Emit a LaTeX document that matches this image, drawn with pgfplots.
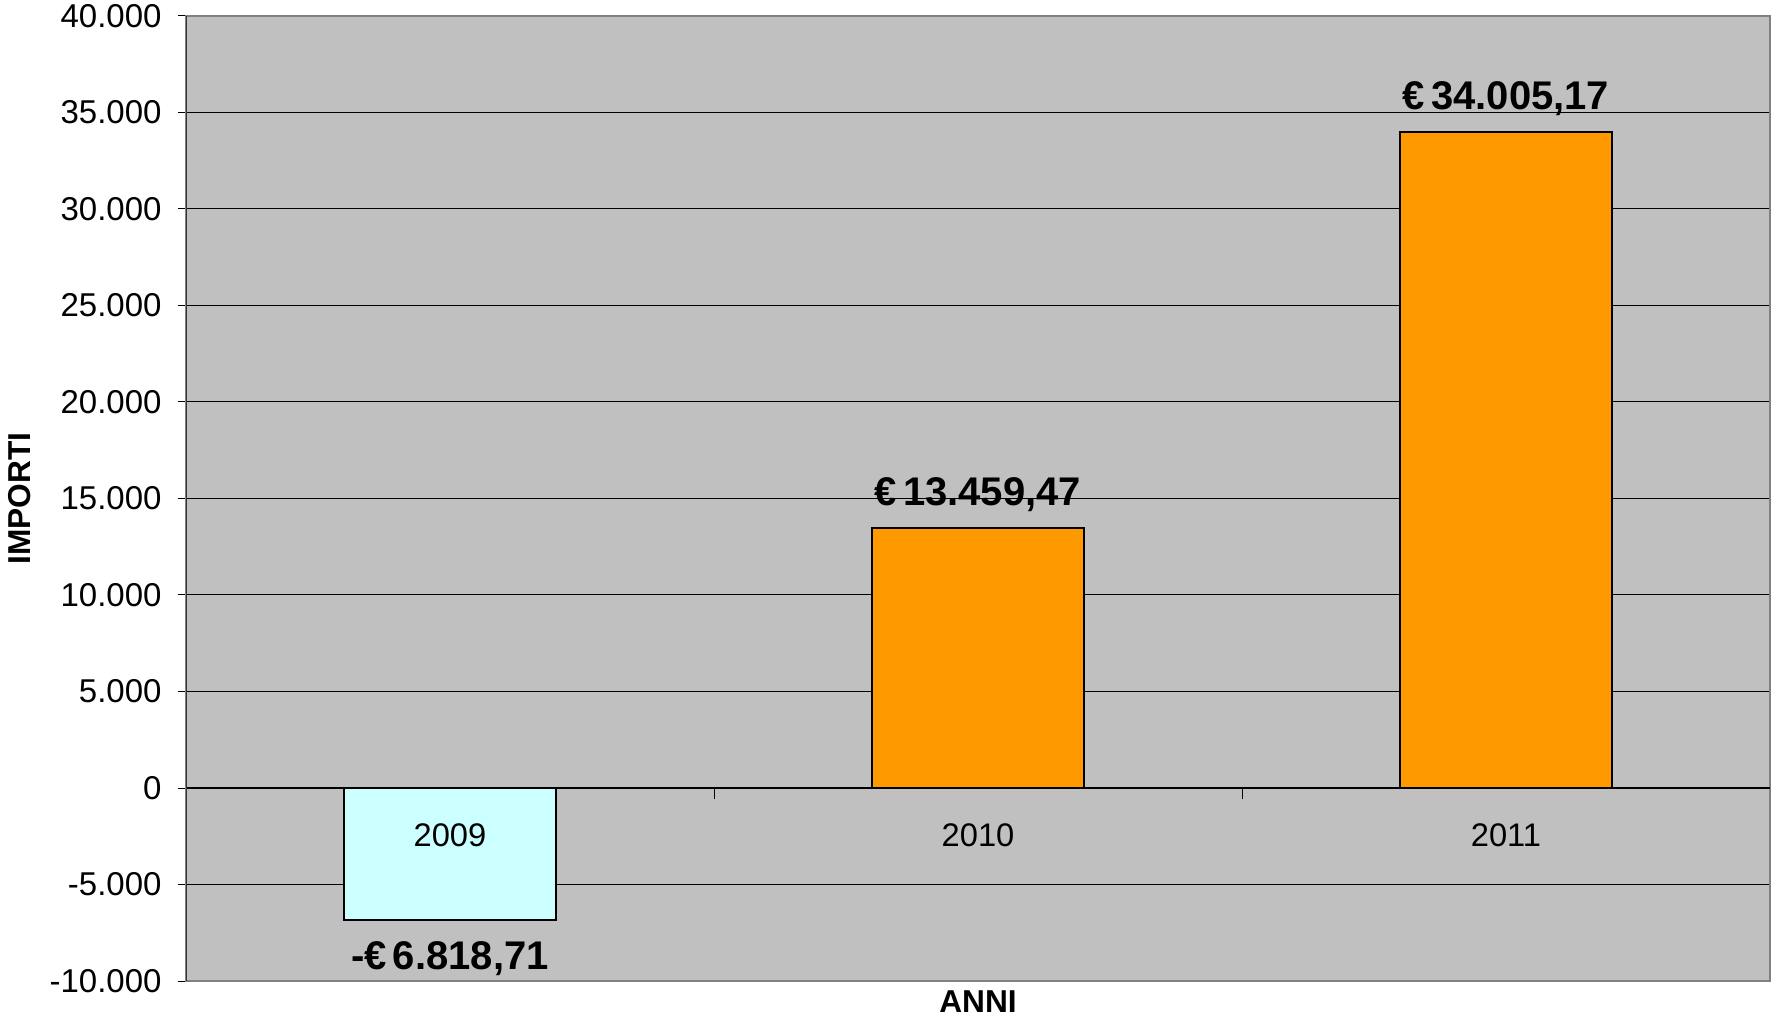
\documentclass[border=0pt]{standalone}
\usepackage{fontspec}
\setmainfont{Liberation Sans}
\usepackage{pgfplots}
\pgfplotsset{compat=1.18}
\definecolor{plotbg}{RGB}{192,192,192}
\definecolor{barorange}{RGB}{255,153,0}
\definecolor{barcyan}{RGB}{204,255,255}
\definecolor{framegray}{RGB}{128,128,128}

\begin{document}
\begin{tikzpicture}
\begin{axis}[
    scale only axis,
    width=475.2pt, height=289.5pt,
    xmin=-0.5, xmax=2.5,
    ymin=-10000, ymax=40000,
    ytick={-10000,-5000,...,40000},
    xtick=\empty,
    scaled y ticks=false,
    ymajorgrids,
    major grid style={black, line width=0.3pt},
    axis background/.style={fill=plotbg},
    axis line style={framegray, line width=0.6pt},
    tick align=outside,
    major tick length=2.4pt,
    tick style={black, line width=0.3pt},
    yticklabel style={font=\fontsize{9.9}{11}\selectfont, xshift=-1.4pt,
        /pgf/number format/use comma,
        /pgf/number format/1000 sep={.},
        /pgf/number format/assume math mode=true},
    ylabel={IMPORTI},
    ylabel style={font=\bfseries\fontsize{9.5}{11}\selectfont,
        at={(axis description cs:-0.1048,0.5)}, anchor=center},
    xlabel={ANNI},
    xlabel style={font=\bfseries\fontsize{9.5}{11}\selectfont,
        at={(axis description cs:0.5,0)}, yshift=-6.3pt, anchor=center},
    ybar, bar width=0.4, bar shift=0pt,
    nodes near coords, point meta=explicit symbolic,
    every node near coord/.append style={font=\bfseries\fontsize{12}{14}\selectfont, black},
]
% 2009: negative result
\addplot[fill=barcyan, draw=black, line width=0.6pt,
    every node near coord/.append style={anchor=north, yshift=-3pt}]
    coordinates {(0,-6818.71) [-€\kern0.15em 6.818,71]};
% 2010 and 2011
\addplot[fill=barorange, draw=black, line width=0.6pt,
    every node near coord/.append style={yshift=1.3pt}]
    coordinates {(1,13459.47) [€\kern0.15em 13.459,47] (2,34005.17) [€\kern0.15em 34.005,17]};

\draw[black, line width=0.4pt] (axis cs:-0.5,0) -- (axis cs:2.5,0);
\draw[black, line width=0.3pt] (axis cs:0.5,0) -- ++(0pt,-3.3pt);
\draw[black, line width=0.3pt] (axis cs:1.5,0) -- ++(0pt,-3.3pt);
\draw[black!80, line width=0.4pt] (axis description cs:0,0) -- (axis description cs:0,1);
\node[font=\fontsize{9.8}{11}\selectfont] at (axis cs:0,0) [yshift=-14.1pt] {2009};
\node[font=\fontsize{9.8}{11}\selectfont] at (axis cs:1,0) [yshift=-14.1pt] {2010};
\node[font=\fontsize{9.8}{11}\selectfont] at (axis cs:2,0) [yshift=-14.1pt] {2011};
\end{axis}
\pgfresetboundingbox
\path[use as bounding box] ([shift={(-55.8pt,-10.5pt)}]current axis.south west)
    rectangle ([shift={(0.3pt,4.8pt)}]current axis.north east);
\end{tikzpicture}
\end{document}
